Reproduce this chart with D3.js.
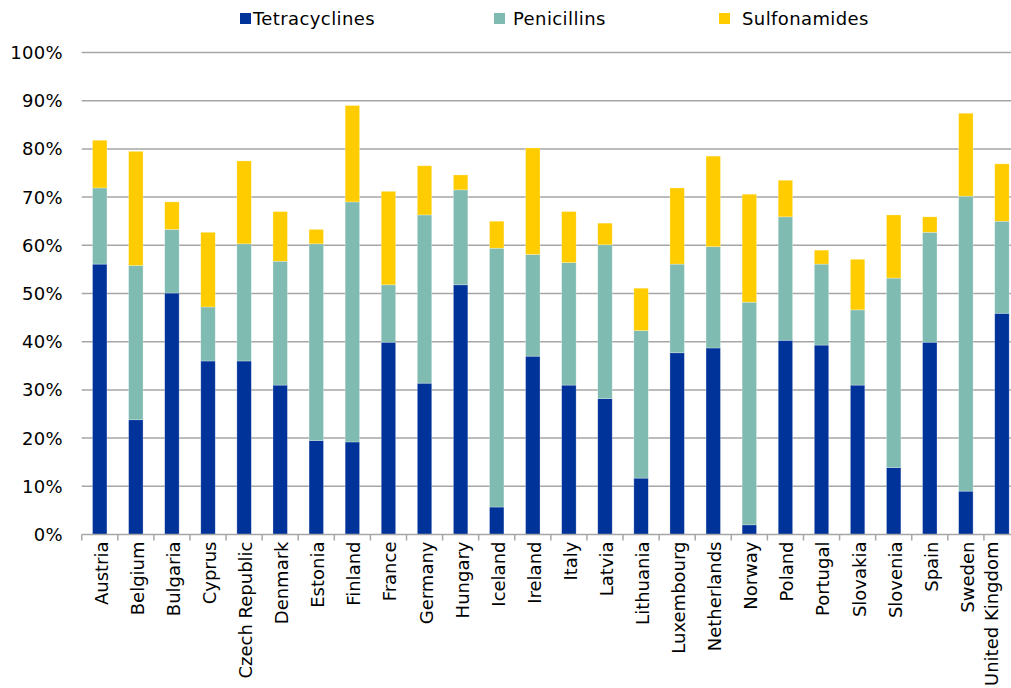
<!DOCTYPE html>
<html>
<head>
<meta charset="utf-8">
<script src="https://cdn.jsdelivr.net/npm/d3@7"></script>
<style>
  html, body { margin: 0; padding: 0; background: #fff; overflow: hidden; }
  svg { display: block; }
  text { font-family: "DejaVu Sans", Verdana, sans-serif; fill: #000; }
</style>
</head>
<body>
<svg id="chart" width="1011" height="688"></svg>
<script>
const categories = ["Austria","Belgium","Bulgaria","Cyprus","Czech Republic","Denmark","Estonia","Finland","France","Germany","Hungary","Iceland","Ireland","Italy","Latvia","Lithuania","Luxembourg","Netherlands","Norway","Poland","Portugal","Slovakia","Slovenia","Spain","Sweden","United Kingdom"];
const seriesNames = ["Tetracyclines","Penicillins","Sulfonamides"];
const tetracyclines = [56.1,23.8,50.1,36.0,36.0,31.0,19.5,19.2,39.9,31.4,51.8,5.7,37.0,31.0,28.2,11.7,37.7,38.7,2.0,40.3,39.3,31.0,13.9,39.9,9.0,45.9];
const penicillins   = [15.8,32.0,13.2,11.2,24.3,25.7,40.8,49.8,11.9,34.9,19.7,53.7,21.1,25.4,31.9,30.6,18.4,21.0,46.2,25.6,16.8,15.6,39.3,22.8,61.2,19.1];
const sulfonamides  = [ 9.9,23.7, 5.7,15.5,17.2,10.3, 3.0,20.0,19.4,10.2, 3.1, 5.6,22.1,10.6, 4.5, 8.8,15.8,18.8,22.4, 7.6, 2.9,10.5,13.1, 3.2,17.2,11.9];
const yTicks = [0,10,20,30,40,50,60,70,80,90,100];
const colors = ["#003399","#7FBBB1","#FFCC00"];

const rows = categories.map((c,i) => ({
  country: c,
  Tetracyclines: tetracyclines[i],
  Penicillins: penicillins[i],
  Sulfonamides: sulfonamides[i]
}));
const stacked = d3.stack().keys(seriesNames)(rows);

const svg = d3.select("#chart");
const mLeft = 81.7, mRight = 1020, mTop = 52.5, mBottom = 534.5;
const fs = 18;

const x = d3.scaleBand().domain(categories).range([mLeft, mRight]).paddingInner(0.6).paddingOuter(0.3);
const y = d3.scaleLinear().domain([0, 100]).range([mBottom, mTop]);

// gridlines
svg.append("g").selectAll("line").data(yTicks.filter(t => t > 0)).join("line")
  .attr("x1", mLeft).attr("x2", mRight)
  .attr("y1", d => y(d)).attr("y2", d => y(d))
  .attr("stroke", "#A6A6A6").attr("stroke-width", 1.5);

// y labels
svg.append("g").selectAll("text").data(yTicks).join("text")
  .attr("x", 63).attr("y", d => y(d)).attr("dy", "0.36em")
  .attr("text-anchor", "end").attr("font-size", fs).attr("letter-spacing", 0.3)
  .text(d => d + "%");

// bars
svg.append("g").selectAll("g").data(stacked).join("g")
  .attr("fill", (d,i) => colors[i])
  .selectAll("rect").data(d => d).join("rect")
  .attr("x", d => x(d.data.country))
  .attr("width", x.bandwidth())
  .attr("y", d => y(d[1]))
  .attr("height", d => y(d[0]) - y(d[1]))
  .attr("stroke", "rgba(255,255,255,0.45)").attr("stroke-width", 0.6);

// x axis line and ticks
svg.append("line").attr("x1", mLeft).attr("x2", mRight).attr("y1", mBottom).attr("y2", mBottom)
  .attr("stroke", "#A6A6A6").attr("stroke-width", 1.5);
const boundaries = d3.range(categories.length + 1).map(i => mLeft + i * x.step());
svg.append("g").selectAll("line").data(boundaries).join("line")
  .attr("x1", d => d).attr("x2", d => d).attr("y1", mBottom).attr("y2", mBottom + 6)
  .attr("stroke", "#A6A6A6").attr("stroke-width", 1.5);

// x labels (kept inside the picture's right edge)
svg.append("g").selectAll("text").data(categories).join("text")
  .attr("transform", d => `translate(${Math.min(x(d) + x.bandwidth()/2 + 1.5, 991.5)},${mBottom + 7}) rotate(-90)`)
  .attr("dy", "0.36em").attr("text-anchor", "end").attr("font-size", fs)
  .text(d => d);

// legend
const legendX = [{sq: 240, tx: 253}, {sq: 494, tx: 513}, {sq: 719, tx: 742}];
const lg = svg.append("g").selectAll("g").data(seriesNames).join("g");
lg.append("rect").attr("x", (d,i) => legendX[i].sq).attr("y", 13).attr("width", 11).attr("height", 11)
  .attr("fill", (d,i) => colors[i]);
lg.append("text").attr("x", (d,i) => legendX[i].tx).attr("y", 18.5).attr("dy", "0.36em")
  .attr("font-size", fs).attr("letter-spacing", 0.4).text(d => d);
</script>
</body>
</html>
